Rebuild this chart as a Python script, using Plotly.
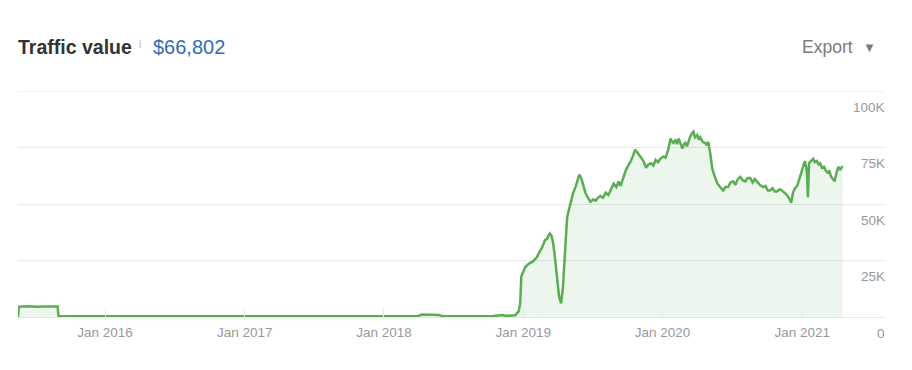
import plotly.graph_objects as go

# ---------------- data ----------------
dates = [
    "2015-05-18", "2015-05-20", "2015-06-15", "2015-07-05", "2015-07-25", "2015-08-30",
    "2015-09-01", "2016-01-01", "2016-07-01", "2017-01-01", "2017-07-01", "2018-01-01",
    "2018-03-30", "2018-04-10", "2018-04-20", "2018-05-25", "2018-06-05", "2018-09-01",
    "2018-10-15", "2018-11-08", "2018-11-14", "2018-11-25", "2018-12-11", "2018-12-20",
    "2018-12-24", "2018-12-27",
    "2019-01-01", "2019-01-06", "2019-01-12", "2019-01-19", "2019-01-26", "2019-02-02",
    "2019-02-06", "2019-02-10", "2019-02-14", "2019-02-20", "2019-02-27", "2019-03-04",
    "2019-03-08", "2019-03-12", "2019-03-16", "2019-03-20", "2019-03-24", "2019-03-28",
    "2019-04-01", "2019-04-05", "2019-04-10", "2019-04-15", "2019-04-18", "2019-04-21",
    "2019-04-26", "2019-04-30", "2019-05-04", "2019-05-08", "2019-05-12", "2019-05-17",
    "2019-05-23", "2019-05-28", "2019-06-02", "2019-06-07", "2019-06-13", "2019-06-19",
    "2019-06-26", "2019-07-03", "2019-07-10", "2019-07-14", "2019-07-22", "2019-07-29",
    "2019-08-05", "2019-08-12", "2019-08-19", "2019-08-26", "2019-09-02", "2019-09-08",
    "2019-09-13", "2019-09-20", "2019-09-27", "2019-10-03", "2019-10-10", "2019-10-16",
    "2019-10-21", "2019-10-26", "2019-10-31", "2019-11-06", "2019-11-12", "2019-11-19",
    "2019-11-25", "2019-12-02", "2019-12-08", "2019-12-14", "2019-12-20", "2019-12-26",
    "2020-01-04", "2020-01-09", "2020-01-15", "2020-01-22", "2020-01-26", "2020-01-30",
    "2020-02-04", "2020-02-08", "2020-02-12", "2020-02-17", "2020-02-22", "2020-02-26",
    "2020-03-01", "2020-03-05", "2020-03-09", "2020-03-14", "2020-03-19", "2020-03-22",
    "2020-03-26", "2020-04-01", "2020-04-05", "2020-04-09", "2020-04-15", "2020-04-22",
    "2020-04-26", "2020-04-30", "2020-05-05", "2020-05-10", "2020-05-14", "2020-05-18",
    "2020-05-24", "2020-05-31", "2020-06-04", "2020-06-08", "2020-06-14", "2020-06-21",
    "2020-06-27", "2020-07-04", "2020-07-10", "2020-07-16", "2020-07-23", "2020-07-29",
    "2020-08-05", "2020-08-11", "2020-08-18", "2020-08-24", "2020-08-30", "2020-09-05",
    "2020-09-12", "2020-09-21", "2020-09-27", "2020-10-03", "2020-10-09", "2020-10-15",
    "2020-10-21", "2020-10-27", "2020-11-03", "2020-11-09", "2020-11-15", "2020-11-22",
    "2020-11-28", "2020-12-03", "2020-12-08", "2020-12-13", "2020-12-19", "2020-12-26",
    "2021-01-01", "2021-01-04", "2021-01-08", "2021-01-12", "2021-01-14", "2021-01-16",
    "2021-01-19", "2021-01-24", "2021-01-30", "2021-02-03", "2021-02-08", "2021-02-13",
    "2021-02-17", "2021-02-22", "2021-02-27", "2021-03-03", "2021-03-08", "2021-03-13",
    "2021-03-18", "2021-03-23", "2021-03-27", "2021-04-01", "2021-04-06", "2021-04-10",
    "2021-04-14", "2021-04-17",
]
traffic_value = [
    0, 4600, 4800, 4500, 4700, 4600,
    300, 300, 300, 300, 300, 300,
    300, 1100, 1000, 900, 300, 300,
    400, 900, 500, 600, 800, 2500,
    6000, 18000,
    20000, 22000, 23000, 24000, 24500, 26000,
    26500, 28000, 29000, 31000, 34000, 34500,
    36000, 37000, 36000, 33000, 28000, 21000,
    14000, 9000, 6000, 13000, 22000, 31000,
    44000, 47000, 50000, 52000, 55000, 57000,
    60500, 63000, 61500, 58000, 55000, 53000,
    51000, 52000, 51500, 52500, 53500, 52800,
    55000, 54000, 56500, 59000, 57500, 60000,
    58000, 62000, 65000, 67000, 69000, 71500,
    74000, 73000, 72000, 70500, 69000, 66000,
    67500, 68000, 67000, 69500, 68500, 70000,
    71000, 70500, 73500, 79000, 77500, 77000,
    78500, 76500, 79000, 77000, 74500, 76500,
    77000, 75500, 78000, 80000, 81500, 82000,
    79500, 80500, 78500, 79500, 77500, 77000,
    76000, 77500, 72500, 66000, 63500, 62000,
    59000, 57500, 56500, 56000, 57500, 57500,
    59500, 60000, 58500, 61000, 62000, 60500,
    60000, 61500, 61500, 59500, 61000, 60000,
    58500, 57500, 58000, 56000, 56000, 57000,
    55500, 55500, 56500, 56000, 55000, 54000,
    52500, 50500, 55000, 57000, 58000, 62000,
    65000, 66500, 69000, 66000, 62000, 53000,
    68000, 69000, 70000, 68500, 69000, 67500,
    68000, 66000, 66500, 65000, 64000, 64500,
    62000, 61000, 60000, 64000, 66500, 65000,
    66000, 66800,
]

y_tick_values = [0, 25000, 50000, 75000, 100000]
y_tick_labels = ["0", "25K", "50K", "75K", "100K"]

title_text = "Traffic value"
total_value_text = "$66,802"
export_text = "Export"

# ---------------- layout helpers (page pixel -> paper) ----------------
# the page body has an 8px default margin, so the figure is offset by 8px
OFF = 8
W, H = 912 - OFF, 370 - OFF
PL, PR, PT, PB = 18, 885, 90.6, 317   # plot area in page pixels
ML, MT = PL - OFF, PT - OFF
MR, MB = W - (PR - OFF), H - (PB - OFF)
PW = PR - PL
PH = PB - PT


def px(x):
    return (x - PL) / PW


def py(y):
    return (PB - y) / PH


FONT = "Liberation Sans, Arial, sans-serif"
LINE_GREEN = "#5aad52"
FILL_GREEN = "rgba(90,173,82,0.11)"
GRID = "#e6e6e6"
LABEL = "#999999"

fig = go.Figure()
fig.add_trace(go.Scatter(
    x=dates, y=traffic_value, mode="lines",
    line=dict(color=LINE_GREEN, width=2.5),
    fill="tozeroy", fillcolor=FILL_GREEN,
    hoverinfo="skip", showlegend=False,
))

annotations = []
for v, t in zip(y_tick_values, y_tick_labels):
    annotations.append(dict(
        x=px(887), xref="paper", xanchor="right",
        y=v, yref="y", yanchor="middle", yshift=-16,
        text=t, showarrow=False,
        font=dict(family=FONT, size=13.5, color=LABEL),
    ))

annotations += [
    dict(x=px(16), xref="paper", xanchor="left", y=py(47), yref="paper", yanchor="middle",
         text="<b>" + title_text + "</b>", showarrow=False,
         font=dict(family=FONT, size=19.5, color="#333333")),
    dict(x=px(137), xref="paper", xanchor="left", y=py(44), yref="paper", yanchor="middle",
         text="i", showarrow=False,
         font=dict(family=FONT, size=10, color="#aaaaaa")),
    dict(x=px(151), xref="paper", xanchor="left", y=py(47), yref="paper", yanchor="middle",
         text=total_value_text, showarrow=False,
         font=dict(family=FONT, size=20, color="#2f6db5")),
    dict(x=px(855), xref="paper", xanchor="right", y=py(47), yref="paper", yanchor="middle",
         text=export_text, showarrow=False,
         font=dict(family=FONT, size=17.5, color="#7a7a7a")),
    dict(x=px(869), xref="paper", xanchor="center", y=py(47), yref="paper", yanchor="middle",
         text="▼", showarrow=False,
         font=dict(family=FONT, size=13, color="#7a7a7a")),
]

shapes = [
    dict(type="line", xref="paper", yref="paper",
         x0=px(911), x1=px(911), y0=py(0), y1=py(370),
         line=dict(color="#e8e8e8", width=1)),
    # gridline at the top of the range (plotly skips the edge gridline)
    dict(type="line", xref="paper", yref="y", layer="below",
         x0=0, x1=1, y0=y_tick_values[-1], y1=y_tick_values[-1],
         line=dict(color=GRID, width=1)),
]

fig.update_layout(
    width=W, height=H,
    margin=dict(l=ML, r=MR, t=MT, b=MB, pad=0),
    paper_bgcolor="white", plot_bgcolor="white",
    font=dict(family=FONT),
    showlegend=False,
    annotations=annotations,
    shapes=shapes,
    xaxis=dict(
        type="date",
        range=["2015-05-18", "2021-08-06"],
        tick0="2016-01-01", dtick="M12", tickformat="%b %Y",
        ticks="inside", ticklen=8, tickcolor=GRID, tickwidth=1,
        ticklabelstandoff=3,
        showgrid=False, showline=True, linecolor=GRID, linewidth=1,
        zeroline=False,
        tickfont=dict(family=FONT, size=13.5, color=LABEL),
        fixedrange=True,
    ),
    yaxis=dict(
        range=[0, 100000],
        tickvals=y_tick_values,
        showticklabels=False,
        showgrid=True, gridcolor=GRID, gridwidth=1,
        zeroline=False, showline=False, ticks="",
        fixedrange=True,
    ),
)

fig.write_html("out.html", config={"displayModeBar": False})
